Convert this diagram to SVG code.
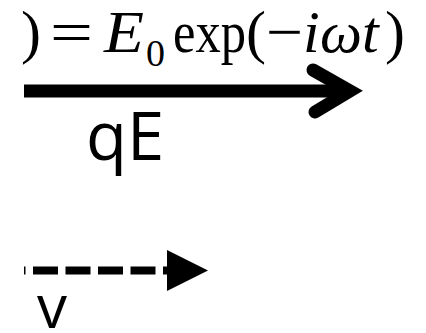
<svg xmlns="http://www.w3.org/2000/svg" width="426" height="333" viewBox="0 0 426 333">
  <style>
    .m { font-family: "Liberation Serif", "Times New Roman", serif; font-size: 60px; fill: #000; }
    .mi { font-style: italic; }
    .lbl { font-family: "Open Sans", "Liberation Sans", sans-serif; fill: #000; }
    .thick { fill: none; stroke: #000; stroke-width: 13; }
    .dash { fill: none; stroke: #000; stroke-width: 8; stroke-dasharray: 25 7.5; stroke-dashoffset: 23.5; }
  </style>
  <rect width="426" height="333" fill="#fff"/>
  <g id="equation">
    <text class="m" x="21" y="52">)</text>
    <text class="m" x="50" y="52" textLength="43" lengthAdjust="spacingAndGlyphs">=</text>
    <text class="m mi" x="104" y="52" textLength="40" lengthAdjust="spacingAndGlyphs">E</text>
    <text class="m" x="146" y="66" style="font-size:38px">0</text>
    <text class="m" x="173" y="52" textLength="73" lengthAdjust="spacingAndGlyphs">exp</text>
    <text class="m" x="246" y="52">(</text>
    <text class="m" x="266" y="52" textLength="37" lengthAdjust="spacingAndGlyphs">−</text>
    <text class="m mi" x="303" y="52">i</text>
    <text class="m mi" x="320" y="52" textLength="42" lengthAdjust="spacingAndGlyphs">ω</text>
    <text class="m mi" x="362" y="52">t</text>
    <text class="m" x="385" y="52">)</text>
  </g>
  <g id="connectors">
    <line class="thick" x1="24" y1="91" x2="350" y2="91"/>
    <polyline class="thick" points="313,70 350,91 315,112" stroke-linecap="round" stroke-linejoin="miter"/>
    <line class="dash" x1="24" y1="270.5" x2="168" y2="270.5"/>
    <polygon points="167,250 208,270.5 167,291" fill="#000"/>
  </g>
  <g id="label-qE">
    <text class="lbl" x="86" y="160" style="font-size:67px">qE</text>
  </g>
  <g id="label-v">
    <text class="lbl" x="37" y="328" style="font-size:60px">v</text>
  </g>
</svg>
